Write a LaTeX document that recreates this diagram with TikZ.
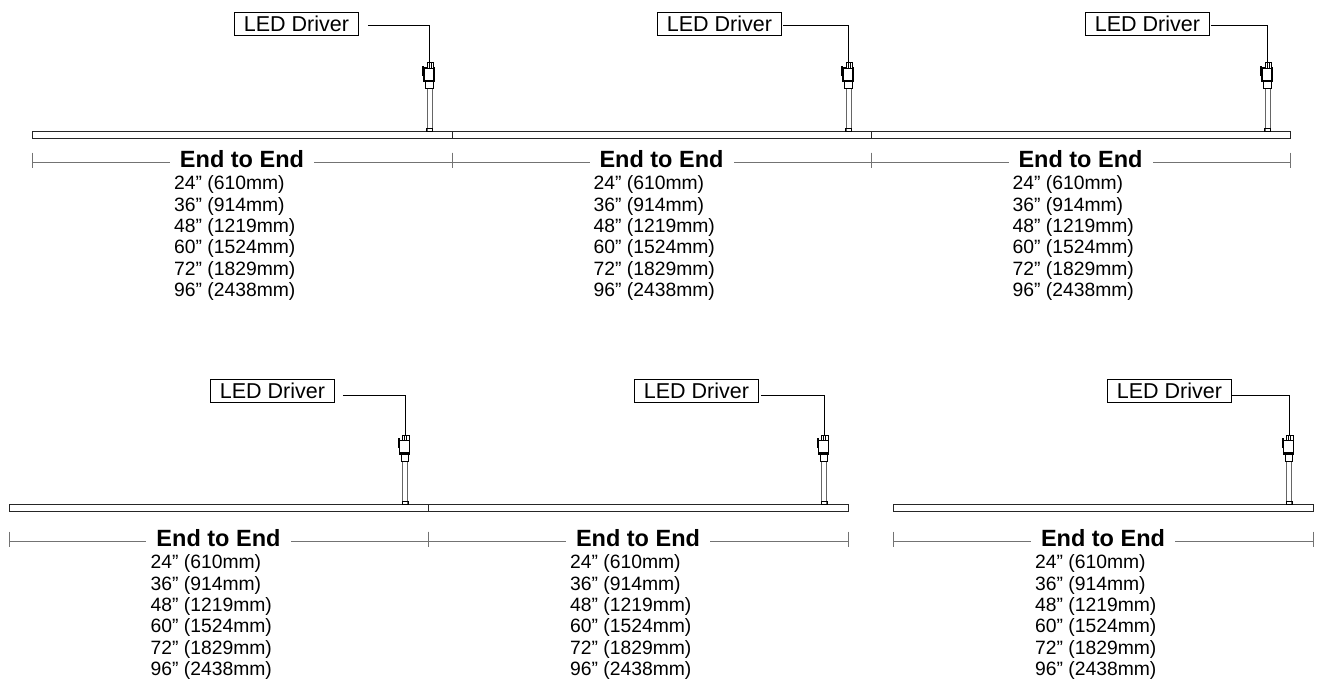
\documentclass[tikz,border=0pt]{standalone}
\usepackage{fontspec}
\setmainfont{Liberation Sans}
\tikzset{
  drvbox/.style={draw=black,line width=0.9pt,minimum width=124pt,minimum height=23.3pt,
    inner sep=0pt,anchor=north west,font=\fontsize{21.5}{24}\selectfont},
  fixture/.style={draw=black!85,line width=1pt,fill=white},
  dimline/.style={draw=black!55,line width=1pt},
  wire/.style={draw=black,line width=1pt},
  rodline/.style={draw=black!60,line width=1pt,fill=white},
  endlabel/.style={anchor=base,fill=white,inner xsep=10pt,inner ysep=0pt,
    font=\bfseries\fontsize{23.5}{26}\selectfont},
  sizelist/.style={anchor=north west,inner sep=0pt,align=left,
    font=\fontsize{19.3}{21.3}\selectfont},
}
\begin{document}
\begin{tikzpicture}[x=1pt,y=-1pt]
\useasboundingbox (0,0) rectangle (1320,681);
%% one fixture per entry: ends, bar top, plug, driver box, wire gap and drop, dimension line
\foreach \n/\l/\r/\by/\cx/\bx/\bt/\g/\w/\dy in {
  a/32/452/131.5/429.5/234/11.7/9/1.7/162.7,
  b/452/871/131.5/848.5/657/11.7/1/1.7/162.7,
  c/871/1290/131.5/1267.5/1085/11.7/1/1.7/162.7,
  d/9/428/504/405/210/378.5/8/5/541.7,
  e/428/848/504/824/634/378.5/2/5/541.7,
  f/893/1313/504/1289/1107/378.5/0/5/541.7}{
  \pgfmathsetmacro\mid{(\l+\r)/2}
  % the bar
  \draw[fixture] (\l,\by) rectangle (\r,{\by+7});
  % the plug
  \begin{scope}[shift={(\cx,\by)}]
    \draw[rodline] (-2.5,-43) rectangle (2.5,0);
    \draw[wire] (-3,-3) rectangle (3,0);
    \draw[wire,fill=white] (-4,-50) rectangle (3.5,-43);
    \draw[wire,fill=white,line width=1.3pt] (-5.5,-63.5) rectangle (4.5,-50);
    \fill (-5.5,-52) rectangle (4.5,-49.5);
    \draw[wire,fill=white] (-2.5,-69) rectangle (4,-63.5);
    \draw[line width=0.8pt] (-0.3,-69) -- (-0.3,-63.5) (1.8,-69) -- (1.8,-63.5);
    \fill (-7.5,-66) rectangle (-5.5,-56);
    \coordinate (plug\n) at (0,-69);
  \end{scope}
  % the driver and its wire
  \node[drvbox] (drv\n) at (\bx,\bt) {LED Driver};
  \draw[wire] ([xshift=\g pt,yshift=-\w pt]drv\n.east) -| (plug\n);
  % the dimension
  \draw[dimline] (\l,\dy) -- (\r,\dy);
  \draw[dimline] (\l,{\dy-10}) -- (\l,{\dy+5});
  \draw[dimline] (\r,{\dy-10}) -- (\r,{\dy+5});
  \node[endlabel] (end\n) at (\mid,{\dy+4.5}) {End to End};
  \node[sizelist] (size\n) at ({\mid-68},{\dy+13})
    {24” (610mm)\\36” (914mm)\\48” (1219mm)\\60” (1524mm)\\72” (1829mm)\\96” (2438mm)};
}
\end{tikzpicture}
\end{document}
